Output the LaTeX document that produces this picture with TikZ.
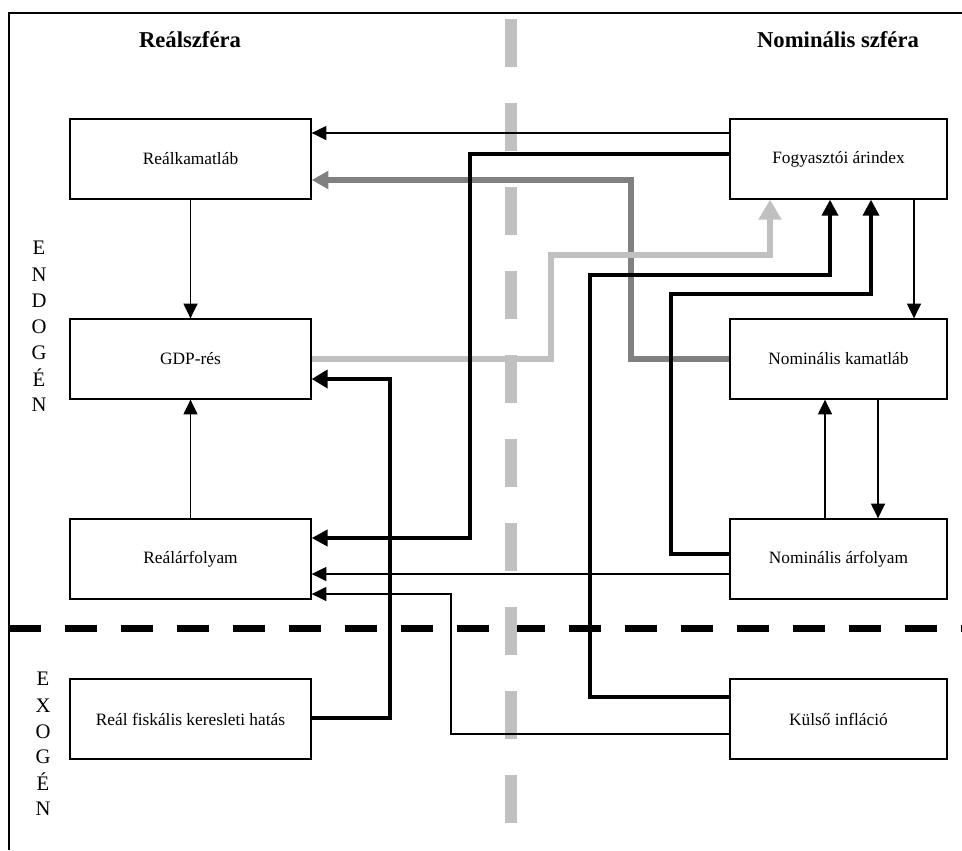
\documentclass[tikz,border=0pt]{standalone}
\usepackage{fontspec}
\setmainfont{Liberation Serif}
\usetikzlibrary{arrows.meta}
\definecolor{lgray}{HTML}{C0C0C0}
\definecolor{dgray}{HTML}{808080}
\tikzset{
  box/.style={draw=black, line width=1pt, fill=white, minimum width=180.75pt, minimum height=60pt, inner sep=0pt, font=\fontsize{13pt}{15pt}\selectfont},
  rbox/.style={box, minimum width=162.75pt},
  heading/.style={font=\fontsize{17pt}{20pt}\selectfont\bfseries},
  sidel/.style={font=\fontsize{15.5pt}{18pt}\selectfont, inner sep=0pt},
  thinarrow/.style={line width=0.9pt, -{Triangle[length=11pt,width=10.5pt]}},
  thickblack/.style={line width=2.7pt, -{Triangle[length=12pt,width=12pt]}},
  heavyblack/.style={line width=3.6pt, -{Triangle[length=12pt,width=13.5pt]}},
  darkgrayarr/.style={draw=dgray, line width=3.8pt, -{Triangle[length=12.5pt,width=13pt]}},
  lightgrayarr/.style={draw=lgray, line width=4.2pt, -{Triangle[length=15pt,width=16.5pt]}},
}
\begin{document}
\begin{tikzpicture}[x=0.75pt,y=-0.75pt]
\useasboundingbox (0,0) rectangle (962,850);
% frame
\draw[line width=1.2pt] (9,850) -- (9,13) -- (962,13);
% horizontal black dashed separator
\draw[line width=5.25pt, dash pattern=on 24pt off 18pt] (9,628) -- (962,628);
% vertical gray dashed separator
\draw[lgray, line width=9pt, dash pattern=on 36pt off 27pt] (511,19) -- (511,850);
% headings
\node[heading] (hreal) at (190,40) {Reálszféra};
\node[heading] (hnom) at (838,40) {Nominális szféra};
% side labels
\foreach \l/\yy in {E/248,N/275,D/301,O/327,G/353,É/378,N/405}
  \node[sidel] at (39,\yy) {\l};
\foreach \l/\yy in {E/679,X/706,O/732,G/757,É/782,N/809}
  \node[sidel] at (43,\yy) {\l};
% boxes
\node[box] (rk) at (190.5,159) {Reálkamatláb};
\node[box] (gdp) at (190.5,359) {GDP-rés};
\node[box] (ra) at (190.5,559) {Reálárfolyam};
\node[box] (rf) at (190.5,719) {Reál fiskális keresleti hatás};
\node[rbox] (fogy) at (838.5,159) {Fogyasztói árindex};
\node[rbox] (nk) at (838.5,359) {Nominális kamatláb};
\node[rbox] (na) at (838.5,559) {Nominális árfolyam};
\node[rbox] (ki) at (838.5,719) {Külső infláció};
% connectors
\draw[thinarrow] (fogy.west |- 0,133) -- (rk.east |- 0,133);
\draw[darkgrayarr] (nk.west |- 0,359) -| (631,180) -- (rk.east |- 0,180);
\draw[lightgrayarr] (gdp.east |- 0,359) -| (551,255) -| (fogy.south -| 770,0);
\draw[thickblack, line width=3pt] (fogy.west |- 0,154) -| (470,538) -- (ra.east |- 0,538);
\draw[thickblack] (na.west |- 0,554) -| (671,294) -| (fogy.south -| 871,0);
\draw[thickblack] (ki.west |- 0,697) -| (590,275) -| (fogy.south -| 830,0);
\draw[thinarrow] (fogy.south -| 914,0) -- (nk.north -| 914,0);
\draw[thinarrow] (na.north -| 825,0) -- (nk.south -| 825,0);
\draw[thinarrow] (nk.south -| 878,0) -- (na.north -| 878,0);
\draw[thinarrow] (na.west |- 0,574) -- (ra.east |- 0,574);
\draw[thinarrow] (ki.west |- 0,734) -| (451,594) -- (ra.east |- 0,594);
\draw[heavyblack] (rf.east |- 0,718) -| (390,379) -- (gdp.east |- 0,379);
\draw[thinarrow] (rk.south) -- (gdp.north);
\draw[thinarrow] (ra.north) -- (gdp.south);
\end{tikzpicture}
\end{document}
